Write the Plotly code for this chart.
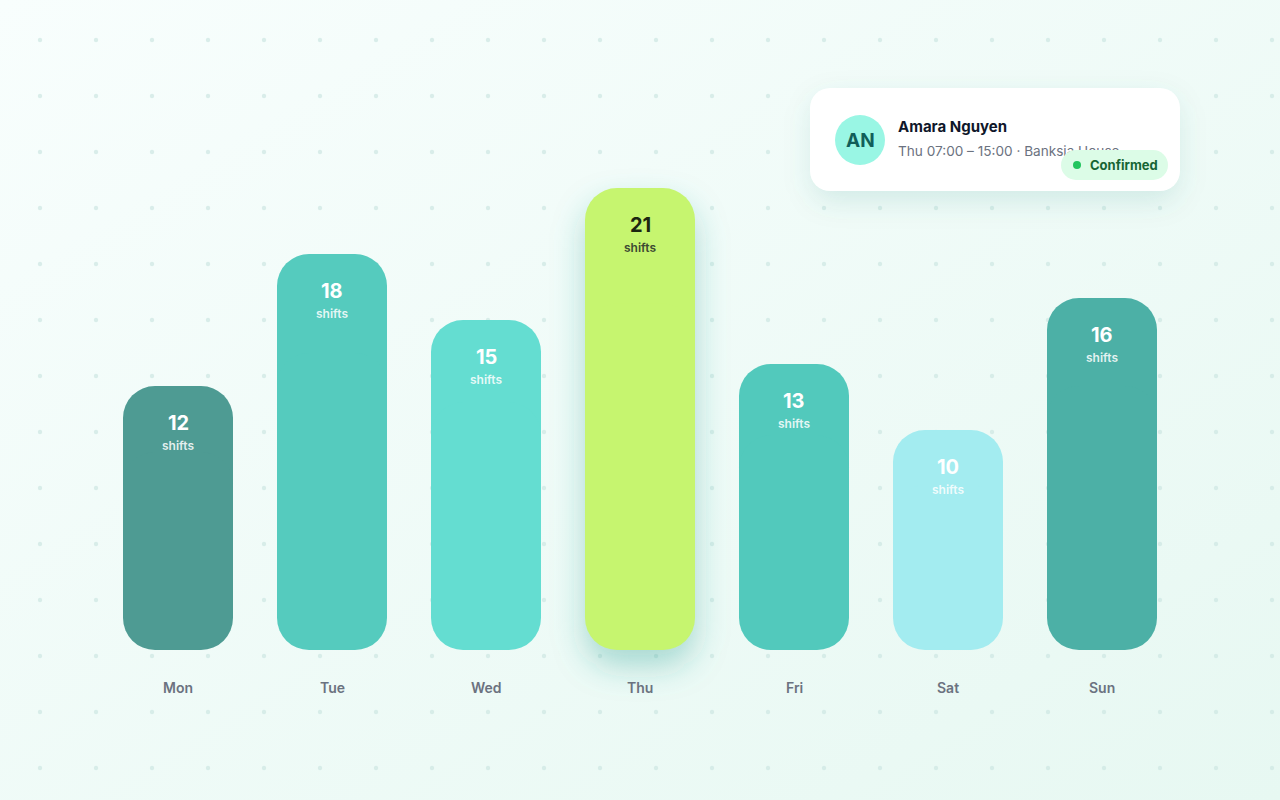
import base64
import plotly.graph_objects as go

# ---------------- data ----------------
days = ["Mon", "Tue", "Wed", "Thu", "Fri", "Sat", "Sun"]
shifts = [12, 18, 15, 21, 13, 10, 16]
bar_colors = ["#4e9b93", "#55cbbe", "#64ddd1", "#c6f56f", "#52c9bc", "#a3ecf0", "#4cb0a6"]
value_colors = ["#ffffff", "#ffffff", "#ffffff", "#1c2611", "#ffffff", "#ffffff", "#ffffff"]
unit_colors = ["rgba(255,255,255,0.85)"] * 3 + ["#3d4a33"] + ["rgba(255,255,255,0.85)"] * 3
unit_label = "shifts"
highlight_day = "Thu"

card_name = "Amara Nguyen"
card_initials = "AN"
card_detail = "Thu 07:00 \u2013 15:00 \u00b7 Banksia House"
card_status = "Confirmed"

FONT = "Inter, Roboto, sans-serif"
W, H = 1280, 800
PX_X = 154.0     # pixels per category
PX_Y = 22.0      # pixels per shift
X0_PX = 178.0    # pixel centre of first bar
BASE_PX = 650.0  # pixel of zero line
BAR_W = 110.0 / PX_X

x_idx = list(range(len(days)))

def b64svg(svg):
    return "data:image/svg+xml;base64," + base64.b64encode(svg.encode()).decode()

fig = go.Figure()

# bars: two overlapping pieces so both ends get rounded corners
fig.add_trace(go.Bar(
    x=x_idx, y=[v * 0.75 for v in shifts], base=[v * 0.25 for v in shifts],
    width=BAR_W, marker=dict(color=bar_colors, line=dict(width=0)),
    hoverinfo="skip", showlegend=False))
fig.add_trace(go.Bar(
    x=x_idx, y=[-v * 0.75 for v in shifts], base=[v * 0.75 for v in shifts],
    width=BAR_W, marker=dict(color=bar_colors, line=dict(width=0)),
    hoverinfo="skip", showlegend=False))

# subtitle text in the card (as trace so the status pill can sit on top of it)
fig.add_trace(go.Scatter(
    x=[898], y=[153], text=[card_detail], mode="text", textposition="middle right",
    textfont=dict(family=FONT, size=13.6, color="#6b7280"),
    xaxis="x2", yaxis="y2", hoverinfo="skip", showlegend=False))

# ---------------- background ----------------
bg_svg = f'''<svg xmlns="http://www.w3.org/2000/svg" width="{W}" height="{H}" viewBox="0 0 {W} {H}">
<defs>
<linearGradient id="g" x1="0" y1="0" x2="1" y2="1">
<stop offset="0" stop-color="#f8fefd"/><stop offset="1" stop-color="#e7f8f2"/></linearGradient>
<pattern id="p" x="0" y="0" width="56" height="56" patternUnits="userSpaceOnUse">
<circle cx="40" cy="40" r="2.2" fill="#cde8e3" fill-opacity="0.7"/></pattern>
<filter id="s" x="-50%" y="-80%" width="200%" height="260%"><feGaussianBlur stdDeviation="14"/></filter>
</defs>
<rect width="{W}" height="{H}" fill="url(#g)"/>
<rect width="{W}" height="{H}" fill="url(#p)"/>
<rect x="812" y="98" width="366" height="103" rx="20" fill="#0f766e" fill-opacity="0.13" filter="url(#s)"/>
<rect x="810" y="88" width="370" height="103" rx="20" fill="#ffffff"/>
</svg>'''

images = [dict(source=b64svg(bg_svg), xref="paper", yref="paper", x=0, y=1,
               sizex=1, sizey=1, sizing="stretch", xanchor="left", yanchor="top",
               layer="below")]

# glow behind highlighted bar
hi = days.index(highlight_day)
hv = shifts[hi]
pad = 60
gw, gh = 110 + 2 * pad, hv * PX_Y + 2 * pad
glow_svg = f'''<svg xmlns="http://www.w3.org/2000/svg" width="{gw}" height="{gh}" viewBox="0 0 {gw} {gh}">
<defs><filter id="b" x="-50%" y="-50%" width="200%" height="200%"><feGaussianBlur stdDeviation="16"/></filter></defs>
<rect x="{pad}" y="{pad + 16}" width="110" height="{hv * PX_Y}" rx="32" fill="#2a9d8f" fill-opacity="0.36" filter="url(#b)"/>
</svg>'''
images.append(dict(source=b64svg(glow_svg), xref="x", yref="y", x=hi, y=hv + pad / PX_Y,
                   sizex=gw / PX_X, sizey=gh / PX_Y, sizing="stretch",
                   xanchor="center", yanchor="top", layer="below"))

# ---------------- annotations ----------------
ann = []
for i, (d, v) in enumerate(zip(days, shifts)):
    ann.append(dict(x=i, y=v, xref="x", yref="y", text=str(v), showarrow=False,
                    yanchor="middle", yshift=-37,
                    font=dict(family=FONT, size=20, color=value_colors[i], weight=700)))
    ann.append(dict(x=i, y=v, xref="x", yref="y", text=unit_label, showarrow=False,
                    yanchor="middle", yshift=-59,
                    font=dict(family=FONT, size=12, color=unit_colors[i], weight=600)))
    ann.append(dict(x=i, y=0, xref="x", yref="y", text=d, showarrow=False,
                    yanchor="middle", yshift=-37,
                    font=dict(family=FONT, size=14, color="#6b7280", weight=600)))

ann += [
    dict(x=860, y=140, xref="x2", yref="y2", text=card_initials, showarrow=False,
         xanchor="center", yanchor="middle",
         font=dict(family=FONT, size=19, color="#115e59", weight=700)),
    dict(x=898, y=126, xref="x2", yref="y2", text=card_name, showarrow=False,
         xanchor="left", yanchor="middle", xshift=-2,
         font=dict(family=FONT, size=15, color="#0f172a", weight=700)),
    dict(x=1090, y=165, xref="x2", yref="y2", text=card_status, showarrow=False,
         xanchor="left", yanchor="middle", xshift=-2,
         font=dict(family=FONT, size=13, color="#166534", weight=700)),
]

shapes = [
    dict(type="circle", xref="x2", yref="y2", x0=835, x1=885, y0=115, y1=165,
         fillcolor="#99f6e4", line=dict(width=0), layer="below"),
    # status pill
    dict(type="circle", xref="x2", yref="y2", x0=1061, x1=1091, y0=150, y1=180,
         fillcolor="#dcfce7", line=dict(width=0), layer="above"),
    dict(type="circle", xref="x2", yref="y2", x0=1138, x1=1168, y0=150, y1=180,
         fillcolor="#dcfce7", line=dict(width=0), layer="above"),
    dict(type="rect", xref="x2", yref="y2", x0=1076, x1=1153, y0=150, y1=180,
         fillcolor="#dcfce7", line=dict(width=0), layer="above"),
    dict(type="circle", xref="x2", yref="y2", x0=1073, x1=1081, y0=161, y1=169,
         fillcolor="#22c55e", line=dict(width=0), layer="above"),
]

fig.update_layout(
    width=W, height=H, autosize=False,
    margin=dict(l=0, r=0, t=0, b=0, pad=0),
    paper_bgcolor="#f0fbf8", plot_bgcolor="rgba(0,0,0,0)",
    barmode="overlay", barcornerradius=32,
    xaxis=dict(range=[-X0_PX / PX_X, (W - X0_PX) / PX_X], visible=False, fixedrange=True),
    yaxis=dict(range=[-(H - BASE_PX) / PX_Y, BASE_PX / PX_Y], visible=False, fixedrange=True),
    xaxis2=dict(range=[0, W], overlaying="x", anchor="y2", visible=False, fixedrange=True),
    yaxis2=dict(range=[H, 0], overlaying="y", anchor="x2", visible=False, fixedrange=True),
    images=images, annotations=ann, shapes=shapes,
    font=dict(family=FONT),
)

fig.write_html("out.html", config=dict(displayModeBar=False),
               post_script="document.body.style.margin='0';document.body.style.overflow='hidden';")
